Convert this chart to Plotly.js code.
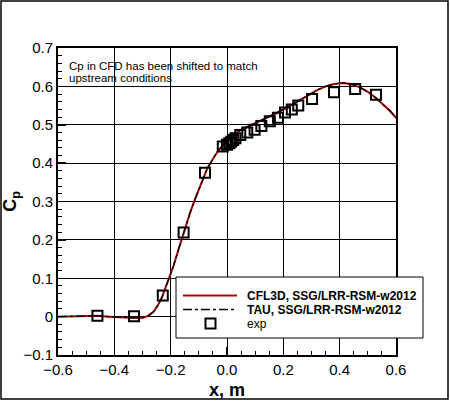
<!DOCTYPE html>
<html>
<head>
<meta charset="utf-8">
<script src="https://cdn.plot.ly/plotly-3.0.1.min.js"></script>
<style>
  html, body { margin: 0; padding: 0; background: #fff; }
  #chart { width: 450px; height: 401px; }
</style>
</head>
<body>
<div id="chart"></div>
<script>
// CFD surface pressure (both codes essentially coincide)
const cfdX = [-0.6, -0.55, -0.5, -0.46, -0.42, -0.38, -0.34, -0.30, -0.28, -0.26, -0.245, -0.23,
  -0.21, -0.19, -0.17, -0.15, -0.13, -0.11, -0.09, -0.07, -0.05, -0.03, -0.01, 0.0, 0.02, 0.05,
  0.08, 0.11, 0.14, 0.17, 0.2, 0.23, 0.26, 0.29, 0.32, 0.35, 0.38, 0.41, 0.44, 0.47, 0.5, 0.53,
  0.56, 0.58, 0.6];
const cfl3dCp = [0.000, 0.001, 0.002, 0.002, 0.000, -0.002, -0.003, -0.003, 0.002, 0.013, 0.030, 0.052,
  0.090, 0.132, 0.180, 0.228, 0.273, 0.313, 0.352, 0.386, 0.411, 0.434, 0.450, 0.458, 0.472, 0.487,
  0.498, 0.508, 0.518, 0.528, 0.539, 0.552, 0.565, 0.578, 0.590, 0.600, 0.606, 0.609, 0.606, 0.598, 0.586, 0.569,
  0.549, 0.535, 0.518];
const tauCp = [0.000, 0.001, 0.002, 0.002, 0.000, -0.002, -0.003, -0.003, 0.002, 0.013, 0.030, 0.052,
  0.090, 0.132, 0.180, 0.228, 0.273, 0.313, 0.352, 0.386, 0.411, 0.434, 0.450, 0.458, 0.472, 0.487,
  0.498, 0.508, 0.518, 0.528, 0.539, 0.552, 0.565, 0.578, 0.590, 0.600, 0.606, 0.609, 0.606, 0.598, 0.586, 0.569,
  0.549, 0.535, 0.518];
// Experiment
const expX = [-0.46, -0.33, -0.228, -0.154, -0.078, -0.015, 0.0, 0.008, 0.015, 0.022, 0.03, 0.047,
  0.072, 0.098, 0.122, 0.152, 0.181, 0.206, 0.23, 0.253, 0.302, 0.38, 0.455, 0.529];
const expCp = [0.002, 0.001, 0.055, 0.219, 0.375, 0.443, 0.448, 0.452, 0.456, 0.46, 0.465, 0.473,
  0.48, 0.487, 0.497, 0.509, 0.518, 0.532, 0.54, 0.55, 0.567, 0.585, 0.593, 0.578];

const seriesNames = ['CFL3D, SSG/LRR-RSM-w2012', 'TAU, SSG/LRR-RSM-w2012', 'exp'];
const noteLines = ['Cp in CFD has been shifted to match', 'upstream conditions'];

const FONT = 'Liberation Sans, Arial, Helvetica, sans-serif';
const RED = 'rgb(178,0,0)';

const styles = [
  { mode: 'lines', line: { color: RED, width: 2 } },
  { mode: 'lines', line: { color: 'black', width: 1.3, dash: 'dashdot' } },
  { mode: 'markers', marker: { symbol: 'square-open', size: 10, color: 'black', line: { width: 2, color: 'black' } } }
];

const traces = [
  Object.assign({ x: cfdX, y: cfl3dCp, name: seriesNames[0] }, styles[0]),
  Object.assign({ x: cfdX, y: tauCp, name: seriesNames[1] }, styles[1]),
  Object.assign({ x: expX, y: expCp, name: seriesNames[2] }, styles[2])
];

const L = 58, R = 54, T = 48, B = 46, W = 450, H = 401;
const pw = W - L - R, ph = H - T - B;
const px2x = p => (p - L) / pw;
const py2y = p => (H - B - p) / ph;

// Legend box (drawn as in the original: long line samples)
const leg = { x0: 176, x1: 423, y0: 277, y1: 338, sx0: 183, sx1: 237, tx: 245, rows: [295.5, 309.5, 323.5] };

const shapes = [
  { type: 'rect', xref: 'paper', yref: 'paper',
    x0: px2x(1), x1: px2x(448), y0: py2y(399), y1: py2y(1),
    line: { color: 'black', width: 1.5 }, fillcolor: 'rgba(0,0,0,0)', layer: 'below' },
  { type: 'rect', xref: 'paper', yref: 'paper',
    x0: px2x(leg.x0), x1: px2x(leg.x1), y0: py2y(leg.y1), y1: py2y(leg.y0),
    line: { color: 'black', width: 1 }, fillcolor: 'white', layer: 'above' },
  { type: 'line', xref: 'paper', yref: 'paper',
    x0: px2x(leg.sx0), x1: px2x(leg.sx1), y0: py2y(leg.rows[0]), y1: py2y(leg.rows[0]),
    line: { color: RED, width: 2 }, layer: 'above' },
  { type: 'line', xref: 'paper', yref: 'paper',
    x0: px2x(leg.sx0), x1: px2x(leg.sx1), y0: py2y(leg.rows[1]), y1: py2y(leg.rows[1]),
    line: { color: 'black', width: 1.5, dash: 'dashdot' }, layer: 'above' },
  { type: 'rect', xref: 'paper', yref: 'paper',
    x0: px2x(205.5), x1: px2x(215.5), y0: py2y(leg.rows[2] + 5), y1: py2y(leg.rows[2] - 5),
    line: { color: 'black', width: 2 }, fillcolor: 'rgba(0,0,0,0)', layer: 'above' }
];

const noteFont = { size: 11.5, family: FONT, color: 'black' };
const legFont = { size: 12, family: FONT, color: 'black' };
const annotations = [
  { xref: 'paper', yref: 'paper', x: px2x(67), y: py2y(66), xanchor: 'left', yanchor: 'middle',
    text: noteLines[0], showarrow: false, font: noteFont },
  { xref: 'paper', yref: 'paper', x: px2x(67), y: py2y(78), xanchor: 'left', yanchor: 'middle',
    text: noteLines[1], showarrow: false, font: noteFont },
  { xref: 'paper', yref: 'paper', x: px2x(leg.tx), y: py2y(leg.rows[0]), xanchor: 'left', yanchor: 'middle',
    text: '<b>' + seriesNames[0] + '</b>', showarrow: false, font: legFont },
  { xref: 'paper', yref: 'paper', x: px2x(leg.tx), y: py2y(leg.rows[1]), xanchor: 'left', yanchor: 'middle',
    text: '<b>' + seriesNames[1] + '</b>', showarrow: false, font: legFont },
  { xref: 'paper', yref: 'paper', x: px2x(leg.tx), y: py2y(leg.rows[2]), xanchor: 'left', yanchor: 'middle',
    text: seriesNames[2], showarrow: false, font: legFont }
];

const layout = {
  width: W, height: H,
  margin: { l: L, r: R, t: T, b: B, pad: 0 },
  paper_bgcolor: 'white', plot_bgcolor: 'white',
  font: { family: FONT, color: 'black' },
  showlegend: false,
  xaxis: {
    range: [-0.6, 0.6], dtick: 0.2, tick0: -0.6,
    showgrid: true, gridcolor: 'black', gridwidth: 1, zeroline: false,
    showline: true, linecolor: 'black', linewidth: 2, mirror: true,
    ticks: 'inside', ticklen: 8, tickwidth: 1.5, tickcolor: 'black',
    minor: { dtick: 0.05, ticks: 'inside', ticklen: 4, tickwidth: 1, tickcolor: 'black', showgrid: false },
    tickfont: { size: 15, family: FONT },
    tickformat: '.1f',
    title: { text: '<b>x, m</b>', font: { size: 18, family: FONT }, standoff: 6 },
    automargin: false
  },
  yaxis: {
    range: [-0.1, 0.7], dtick: 0.1, tick0: -0.1,
    showgrid: true, gridcolor: 'black', gridwidth: 1, zeroline: false,
    showline: true, linecolor: 'black', linewidth: 2, mirror: true,
    ticks: 'inside', ticklen: 8, tickwidth: 1.5, tickcolor: 'black',
    minor: { dtick: 0.02, ticks: 'inside', ticklen: 4, tickwidth: 1, tickcolor: 'black', showgrid: false },
    tickfont: { size: 15, family: FONT },
    title: { text: '<b>C<sub>p</sub></b>', font: { size: 18, family: FONT }, standoff: 12 },
    automargin: false
  },
  annotations: annotations,
  shapes: shapes
};

Plotly.newPlot('chart', traces, layout, { displayModeBar: false, staticPlot: true });
</script>
</body>
</html>
